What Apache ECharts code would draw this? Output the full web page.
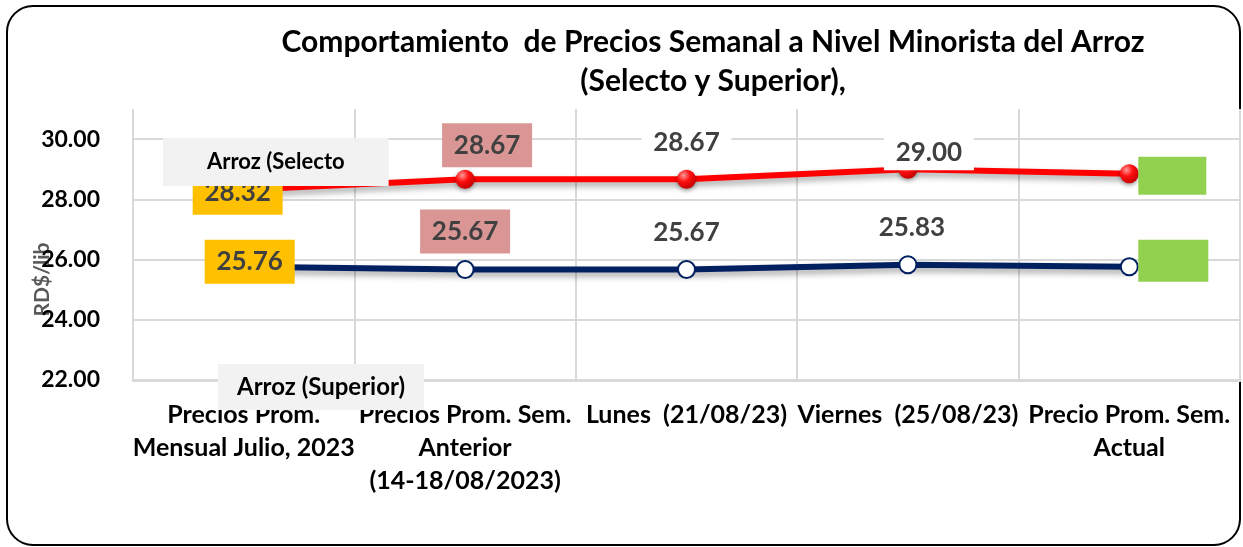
<!doctype html>
<html>
<head>
    <meta charset="utf-8">
    <title>Precios Arroz</title>
    <script src="https://cdn.jsdelivr.net/npm/echarts@6/dist/echarts.min.js"></script>
    <style>
        html, body { margin:0; padding:0; background:#fff; }
        #main { width:1243px; height:547px; }
    </style>
</head>
<body>
    <div id="main"></div>
</body>
<script type="text/javascript">
    // datos del grafico
    var categorias = [
        'Precios Prom.\nMensual Julio, 2023',
        'Precios Prom. Sem.\nAnterior\n(14-18/08/2023)',
        'Lunes  (21/08/23)',
        'Viernes  (25/08/23)',
        'Precio Prom. Sem.\nActual'
    ];
    var selecto  = [28.32, 28.67, 28.67, 29.00, 28.85];
    var superior = [25.76, 25.67, 25.67, 25.83, 25.76];
    var nombres = ['Arroz (Selecto', 'Arroz (Superior)'];
    var titulo = 'Comportamiento  de Precios Semanal a Nivel Minorista del Arroz\n(Selecto y Superior),';

    var fuente = 'Lato, "Liberation Sans", sans-serif';

    // estilo de cada etiqueta (fondo y desplazamiento)
    var etiquetaBase = {
        show: true, position: 'inside', fontFamily: fuente, fontWeight: 'bold',
        fontSize: 26, color: '#404040', width: 90, height: 44, lineHeight: 44, align: 'center',
        formatter: function (p) { return Number(p.value).toFixed(2); }
    };
    function et(extra) { return Object.assign({}, etiquetaBase, extra); }
    var etiquetasSelecto = [
        et({ backgroundColor: '#ffc000', offset: [-6, 3] }),
        et({ backgroundColor: '#d99694', offset: [22, -34] }),
        et({ backgroundColor: '#ffffff', offset: [0, -37] }),
        et({ backgroundColor: '#ffffff', offset: [21, -17], height: 36, lineHeight: 36 }),
        et({ backgroundColor: '#92d050', offset: [43, 2], width: 68, height: 38, formatter: ' ' })
    ];
    var etiquetasSuperior = [
        et({ backgroundColor: '#ffc000', offset: [6, -5] }),
        et({ backgroundColor: '#d99694', offset: [0, -38] }),
        et({ offset: [0, -37] }),
        et({ offset: [4, -37] }),
        et({ backgroundColor: '#92d050', offset: [44, -6], width: 70, height: 42, formatter: ' ' })
    ];

    var myChart = echarts.init(document.getElementById('main'));

    var rojoBola = {
        type: 'radial', x: 0.35, y: 0.3, r: 0.75,
        colorStops: [{ offset: 0, color: '#ff9a9a' }, { offset: 0.45, color: '#ff1010' }, { offset: 1, color: '#c00000' }]
    };

    var option = {
        animation: false,
        graphic: [{
            type: 'rect', z: -10,
            shape: { x: 7, y: 6, width: 1233, height: 539, r: 26 },
            style: { fill: '#fff', stroke: '#000', lineWidth: 2 }
        }],
        title: {
            text: titulo,
            left: 708, top: 18, textAlign: 'center',
            textStyle: { fontFamily: fuente, fontWeight: 'bold', fontSize: 30, lineHeight: 39, color: '#000' }
        },
        legend: [{
            data: [nombres[0]], left: 163, top: 138, icon: 'none', itemWidth: 0, itemGap: 0,
            backgroundColor: '#f2f2f2', padding: [13, 44, 13, 39], selectedMode: false,
            textStyle: { fontFamily: fuente, fontWeight: 'bold', fontSize: 22, color: '#000' }
        }, {
            data: [nombres[1]], left: 218, top: 364, icon: 'none', itemWidth: 0, itemGap: 0,
            backgroundColor: '#f2f2f2', padding: [11, 19, 11, 14], selectedMode: false,
            textStyle: { fontFamily: fuente, fontWeight: 'bold', fontSize: 24, color: '#000' }
        }],
        grid: { left: 133, right: 3, top: 109, bottom: 167 },
        xAxis: {
            type: 'category',
            data: categorias,
            boundaryGap: true,
            axisLine: { lineStyle: { color: '#d9d9d9', width: 3 } },
            axisTick: { show: false },
            splitLine: { show: true, lineStyle: { color: '#d9d9d9', width: 2 } },
            axisLabel: {
                interval: 0, margin: 18, color: '#000', fontFamily: fuente, fontWeight: 'bold',
                fontSize: 25, lineHeight: 33
            }
        },
        yAxis: {
            type: 'value',
            min: 22, max: 31, interval: 2,
            name: 'RD$/lib',
            nameLocation: 'middle', nameGap: 80, nameRotate: 90, nameMoveOverlap: false,
            nameTextStyle: { color: '#595959', fontFamily: fuente, fontWeight: 'bold', fontSize: 21, padding: [0, 70, 0, 0] },
            axisLine: { show: false },
            axisTick: { show: false },
            splitLine: { show: true, showMaxLine: false, lineStyle: { color: '#d9d9d9', width: 2 } },
            axisLabel: {
                showMaxLabel: false, margin: 33, color: '#000', fontFamily: fuente, fontWeight: 'bold', fontSize: 23,
                formatter: function (v) { return v.toFixed(2); }
            }
        },
        series: [{
            name: nombres[0],
            type: 'line',
            symbol: 'circle',
            symbolSize: 19,
            itemStyle: { color: rojoBola, shadowColor: 'rgba(0,0,0,0.35)', shadowBlur: 4, shadowOffsetY: 2 },
            lineStyle: { color: '#ff0000', width: 6, shadowColor: 'rgba(0,0,0,0.35)', shadowBlur: 6, shadowOffsetY: 4 },
            data: selecto.map(function (v, i) { return { value: v, label: etiquetasSelecto[i] }; })
        }, {
            name: nombres[1],
            type: 'line',
            symbol: 'emptyCircle',
            symbolSize: 17,
            itemStyle: { color: '#002060', borderWidth: 2.5 },
            lineStyle: { color: '#002060', width: 6, shadowColor: 'rgba(0,0,0,0.35)', shadowBlur: 6, shadowOffsetY: 4 },
            data: superior.map(function (v, i) { return { value: v, label: etiquetasSuperior[i] }; })
        }]
    };

    myChart.setOption(option);
</script>
</html>
